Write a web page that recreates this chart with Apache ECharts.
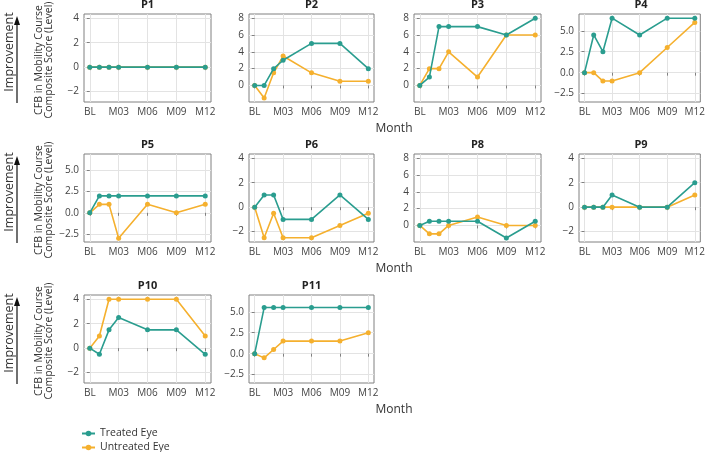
<!DOCTYPE html>
<html>
<head>
<meta charset="utf-8">
<script src="https://cdn.jsdelivr.net/npm/echarts@6/dist/echarts.min.js"></script>
<style>html,body{margin:0;padding:0;background:#fff}#c{width:708px;height:452px}</style>
</head>
<body>
<div id="c"></div>
<script>
// ---- data ----
const months = [0, 1, 2, 3, 6, 9, 12];
const monthTicks = [0, 3, 6, 9, 12];
const monthLabels = ['BL', 'M03', 'M06', 'M09', 'M12'];
const panelNames = ['P1', 'P2', 'P3', 'P4', 'P5', 'P6', 'P8', 'P9', 'P10', 'P11'];

const treatedP1 = [0, 0, 0, 0, 0, 0, 0];
const untreatedP1 = [0, 0, 0, 0, 0, 0, 0];
const treatedP2 = [0, 0, 2, 3, 5, 5, 2];
const untreatedP2 = [0, -1.5, 1.5, 3.5, 1.5, 0.5, 0.5];
const treatedP3 = [0, 1, 7, 7, 7, 6, 8];
const untreatedP3 = [0, 2, 2, 4, 1, 6, 6];
const treatedP4 = [0, 4.5, 2.5, 6.5, 4.5, 6.5, 6.5];
const untreatedP4 = [0, 0, -1, -1, 0, 3, 6];
const treatedP5 = [0, 2, 2, 2, 2, 2, 2];
const untreatedP5 = [0, 1, 1, -3, 1, 0, 1];
const treatedP6 = [0, 1, 1, -1, -1, 1, -1];
const untreatedP6 = [0, -2.5, -0.5, -2.5, -2.5, -1.5, -0.5];
const treatedP8 = [0, 0.5, 0.5, 0.5, 0.5, -1.5, 0.5];
const untreatedP8 = [0, -1, -1, 0, 1, 0, 0];
const treatedP9 = [0, 0, 0, 1, 0, 0, 2];
const untreatedP9 = [0, 0, 0, 0, 0, 0, 1];
const treatedP10 = [0, -0.5, 1.5, 2.5, 1.5, 1.5, -0.5];
const untreatedP10 = [0, 1, 4, 4, 4, 4, 1];
const treatedP11 = [0, 5.5, 5.5, 5.5, 5.5, 5.5, 5.5];
const untreatedP11 = [0, -0.5, 0.5, 1.5, 1.5, 1.5, 2.5];

const yTicksA = [-2, 0, 2, 4];
const yTicksB = [0, 2, 4, 6, 8];
const yTicksC = [-2.5, 0, 2.5, 5];

const treatedAll = [treatedP1, treatedP2, treatedP3, treatedP4, treatedP5, treatedP6, treatedP8, treatedP9, treatedP10, treatedP11];
const untreatedAll = [untreatedP1, untreatedP2, untreatedP3, untreatedP4, untreatedP5, untreatedP6, untreatedP8, untreatedP9, untreatedP10, untreatedP11];

// ---- layout / style ----
const TEAL = '#2a9d8f';
const ORANGE = '#f5b02e';
const FONT = 'Open Sans';
const colLeft = [84, 249, 414, 579];
const colWidth = [127, 125, 127, 124];
const rowTop = [14, 154, 295];
const plotH = 88;
const yCfg = [
  {ticks: yTicksA, min: -2.85, max: 4.35, dec: 0},
  {ticks: yTicksB, min: -1.97, max: 8.5, dec: 0},
  {ticks: yTicksB, min: -1.97, max: 8.5, dec: 0},
  {ticks: yTicksC, min: -3.5, max: 7.0, dec: 1},
  {ticks: yTicksC, min: -3.45, max: 6.95, dec: 1},
  {ticks: yTicksA, min: -2.85, max: 4.35, dec: 0},
  {ticks: yTicksB, min: -1.97, max: 8.5, dec: 0},
  {ticks: yTicksA, min: -2.85, max: 4.35, dec: 0},
  {ticks: yTicksA, min: -2.85, max: 4.35, dec: 0},
  {ticks: yTicksC, min: -3.5, max: 7.0, dec: 1}
];

const fmtNum = (v, dec) => {
  const s = Math.abs(v).toFixed(dec);
  return (v < 0 ? '\u2212' : '') + s;
};
const pair = arr => arr.map((v, i) => [months[i], v]);

const grids = [], xAxes = [], yAxes = [], series = [], titles = [];
panelNames.forEach((name, i) => {
  const r = Math.floor(i / 4), c = i % 4;
  grids.push({left: colLeft[c], top: rowTop[r], width: colWidth[c], height: plotH,
    show: true, borderColor: '#808080', borderWidth: 1, backgroundColor: 'transparent'});
  xAxes.push({
    type: 'value', gridIndex: i, min: -0.6, max: 12.6,
    axisLine: {show: false},
    axisTick: {show: true, customValues: monthTicks, length: 3, lineStyle: {color: '#808080'}},
    axisLabel: {customValues: monthTicks, color: '#444', fontSize: 10, fontFamily: FONT, margin: 5,
      formatter: v => monthLabels[monthTicks.indexOf(v)]},
    splitLine: {show: true, lineStyle: {color: '#e3e3e3', width: 1}}
  });
  const yc = yCfg[i];
  yAxes.push({
    type: 'value', gridIndex: i, min: yc.min, max: yc.max,
    axisLine: {show: false},
    axisTick: {show: true, customValues: yc.ticks, length: 3, lineStyle: {color: '#808080'}},
    axisLabel: {customValues: yc.ticks, color: '#444', fontSize: 10, fontFamily: FONT, margin: 5,
      formatter: v => fmtNum(v, yc.dec)},
    splitLine: {show: true, lineStyle: {color: '#e3e3e3', width: 1}}
  });
  titles.push({text: name, left: colLeft[c] + colWidth[c] / 2, top: rowTop[r] - 15,
    textAlign: 'center', padding: 0,
    textStyle: {fontFamily: FONT, fontSize: 11, fontWeight: 'bold', color: '#222'}});
  series.push({
    name: 'Untreated Eye', type: 'line', xAxisIndex: i, yAxisIndex: i,
    data: pair(untreatedAll[i]), symbol: 'circle', symbolSize: 5, showSymbol: true,
    itemStyle: {color: ORANGE}, lineStyle: {color: ORANGE, width: 1.6}, animation: false, z: 2
  });
  series.push({
    name: 'Treated Eye', type: 'line', xAxisIndex: i, yAxisIndex: i,
    data: pair(treatedAll[i]), symbol: 'circle', symbolSize: 5, showSymbol: true,
    itemStyle: {color: TEAL}, lineStyle: {color: TEAL, width: 1.6}, animation: false, z: 3
  });
});

const graphics = [];
rowTop.forEach(t => {
  graphics.push({type: 'text', x: 9, y: t + 38, rotation: Math.PI / 2,
    style: {text: 'Improvement', fontFamily: FONT, fontSize: 12.5, fill: '#333', textAlign: 'center', textVerticalAlign: 'middle'}});
  graphics.push({type: 'line', shape: {x1: 17, y1: t + 89, x2: 17, y2: t + 8},
    style: {stroke: '#111', lineWidth: 1.2}});
  graphics.push({type: 'polygon', shape: {points: [[17, t + 2], [14, t + 11], [20, t + 11]]},
    style: {fill: '#111'}});
  graphics.push({type: 'text', x: 44, y: t + 46, rotation: Math.PI / 2,
    style: {text: 'CFB in Mobility Course\nComposite Score (Level)', fontFamily: FONT, fontSize: 10.5,
      lineHeight: 10, fill: '#333', textAlign: 'center', textVerticalAlign: 'middle'}});
  graphics.push({type: 'text', x: 394, y: t + 115,
    style: {text: 'Month', fontFamily: FONT, fontSize: 12, fill: '#333', textAlign: 'center', textVerticalAlign: 'middle'}});
});

const chart = echarts.init(document.getElementById('c'), null, {renderer: 'canvas'});
chart.setOption({
  animation: false,
  backgroundColor: '#fff',
  title: titles,
  grid: grids,
  xAxis: xAxes,
  yAxis: yAxes,
  series: series,
  legend: {
    data: ['Treated Eye', 'Untreated Eye'], orient: 'vertical', left: 81, top: 428,
    padding: 0, height: 30,
    itemWidth: 13, itemHeight: 7, itemGap: 3,
    textStyle: {fontFamily: FONT, fontSize: 10.5, color: '#333', lineHeight: 10}
  },
  graphic: graphics
});
</script>
</body>
</html>
